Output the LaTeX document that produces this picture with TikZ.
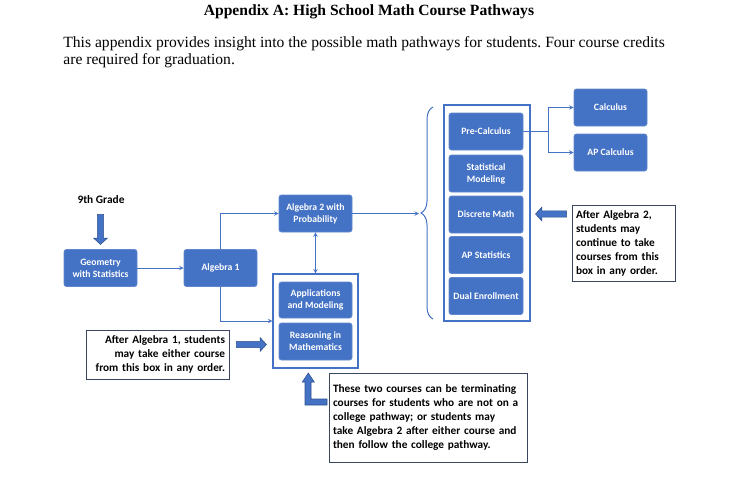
\documentclass[tikz,border=0pt]{standalone}
\usepackage{fontspec}
\setmainfont{Liberation Serif}
\newfontfamily\carlito{Carlito}
\usetikzlibrary{shapes.arrows,decorations.pathreplacing}

\definecolor{boxblue}{HTML}{4472C4}
\definecolor{edgeblue}{HTML}{2F528F}
\definecolor{notegray}{HTML}{3A4560}

\frenchspacing
\begin{document}
\begin{tikzpicture}[x=1pt,y=-1pt,>=stealth,thick,
    course/.style={rectangle,rounded corners=2.5pt,draw=boxblue!85!white,fill=boxblue,text=white,
        font=\carlito\bfseries\fontsize{9.7}{12}\selectfont,align=center,
        minimum width=73pt,minimum height=37pt,inner sep=1pt},
    group/.style={rectangle,draw=boxblue,line width=1.2pt,fill=white},
    note/.style={rectangle,draw=notegray,line width=0.9pt,fill=white,
        font=\carlito\bfseries\fontsize{11.3}{14}\selectfont,inner sep=4pt},
    blockarrow/.style={single arrow,draw=edgeblue,fill=boxblue,line width=0.6pt,
        inner sep=2.8pt,single arrow head extend=3.8pt,single arrow tip angle=95},
    link/.style={draw=boxblue,line width=1pt}]

    \useasboundingbox (0,0) rectangle (737,477);

    % heading
    \node (title) at (369,12) {\bfseries\fontsize{15.6}{18}\selectfont Appendix A: High School Math Course Pathways};
    \node[anchor=north west,align=left,inner sep=0pt,font=\fontsize{15.6}{17}\selectfont] (intro) at (63,36)
        {This appendix provides insight into the possible math pathways for students. Four course credits\\
         are required for graduation.};

    % the two group boxes
    \node[group,minimum width=85pt,minimum height=94pt] (low) at (315.5,321) {};
    \node[group,minimum width=86pt,minimum height=216pt] (high) at (487,213) {};

    % courses
    \node[course] (geo) at (100.5,268) {Geometry\\with Statistics};
    \node[course] (a1) at (220.5,268) {Algebra 1};
    \node[course] (a2) at (315.5,213.5) {Algebra 2 with\\Probability};
    \node[course,minimum height=36pt] (app) at (315.5,300) {Applications\\and Modeling};
    \node[course] (rea) at (315.5,341.5) {Reasoning in\\Mathematics};

    \node[course,minimum width=74pt] (pc) at (486,131.5) {Pre-Calculus};
    \node[course,minimum width=74pt] (sm) at (486,173.5) {Statistical\\Modeling};
    \node[course,minimum width=74pt] (dm) at (486,214.5) {Discrete Math};
    \node[course,minimum width=74pt] (aps) at (486,255) {AP Statistics};
    \node[course,minimum width=74pt] (de) at (486,296) {Dual Enrollment};

    \node[course] (calc) at (610.5,107.5) {Calculus};
    \node[course] (apc) at (610.5,152.5) {AP Calculus};

    % brace in front of the big box
    \draw[link,decorate,decoration={brace,amplitude=12pt}] (433,319) -- (433,107);
    \coordinate (tip) at (419,213.5);

    % connectors
    \draw[link,->] (geo) -- (a1);
    \draw[link,->] (a1.north) |- (a2.west);
    \draw[link,->] (a1.south) |- (low.west);
    \draw[link,<->] (a2.south) -- (low.north);
    \draw[link,->] (a2.east) -- (tip);
    \draw[link] (pc.east) -- ++(25,0) coordinate (split);
    \draw[link,->] (split) |- (calc.west);
    \draw[link,->] (split) |- (apc.west);

    % notes
    \node[font=\carlito\bfseries\fontsize{11.4}{13}\selectfont] (grade) at (101,200) {9th Grade};
    \node[note,minimum width=103pt,minimum height=76pt,text width=95pt,align=left] (n2) at (623.5,243)
        {After Algebra 2,\\students may\\continue to take\\courses from this\\box in any order.};
    \node[note,minimum width=143pt,minimum height=49pt,text width=135pt,align=right] (n1) at (157.5,354.5)
        {After Algebra 1, students\\may take either course\\from this box in any order.};
    \node[note,minimum width=198pt,minimum height=89pt,text width=190pt,align=left] (n3) at (428,417.5)
        {These two courses can be terminating\\courses for students who are not on a\\college pathway; or students may\\take Algebra 2 after either course and\\then follow the college pathway.};

    % block arrows
    \node[blockarrow,minimum height=30pt,rotate=-90] (down) at (100.5,228) {};
    \node[blockarrow,minimum height=31pt,rotate=180] (left) at (552.5,214) {};
    \node[blockarrow,minimum height=30pt] (right) at (250,344.5) {};
    \draw[draw=edgeblue,fill=boxblue,line width=0.6pt] (308.3,373) -- (314.3,382) -- (311,382) -- (311,399)
        -- (327,399) -- (327,405) -- (305,405) -- (305,382) -- (302.3,382) -- cycle;
\end{tikzpicture}
\end{document}
